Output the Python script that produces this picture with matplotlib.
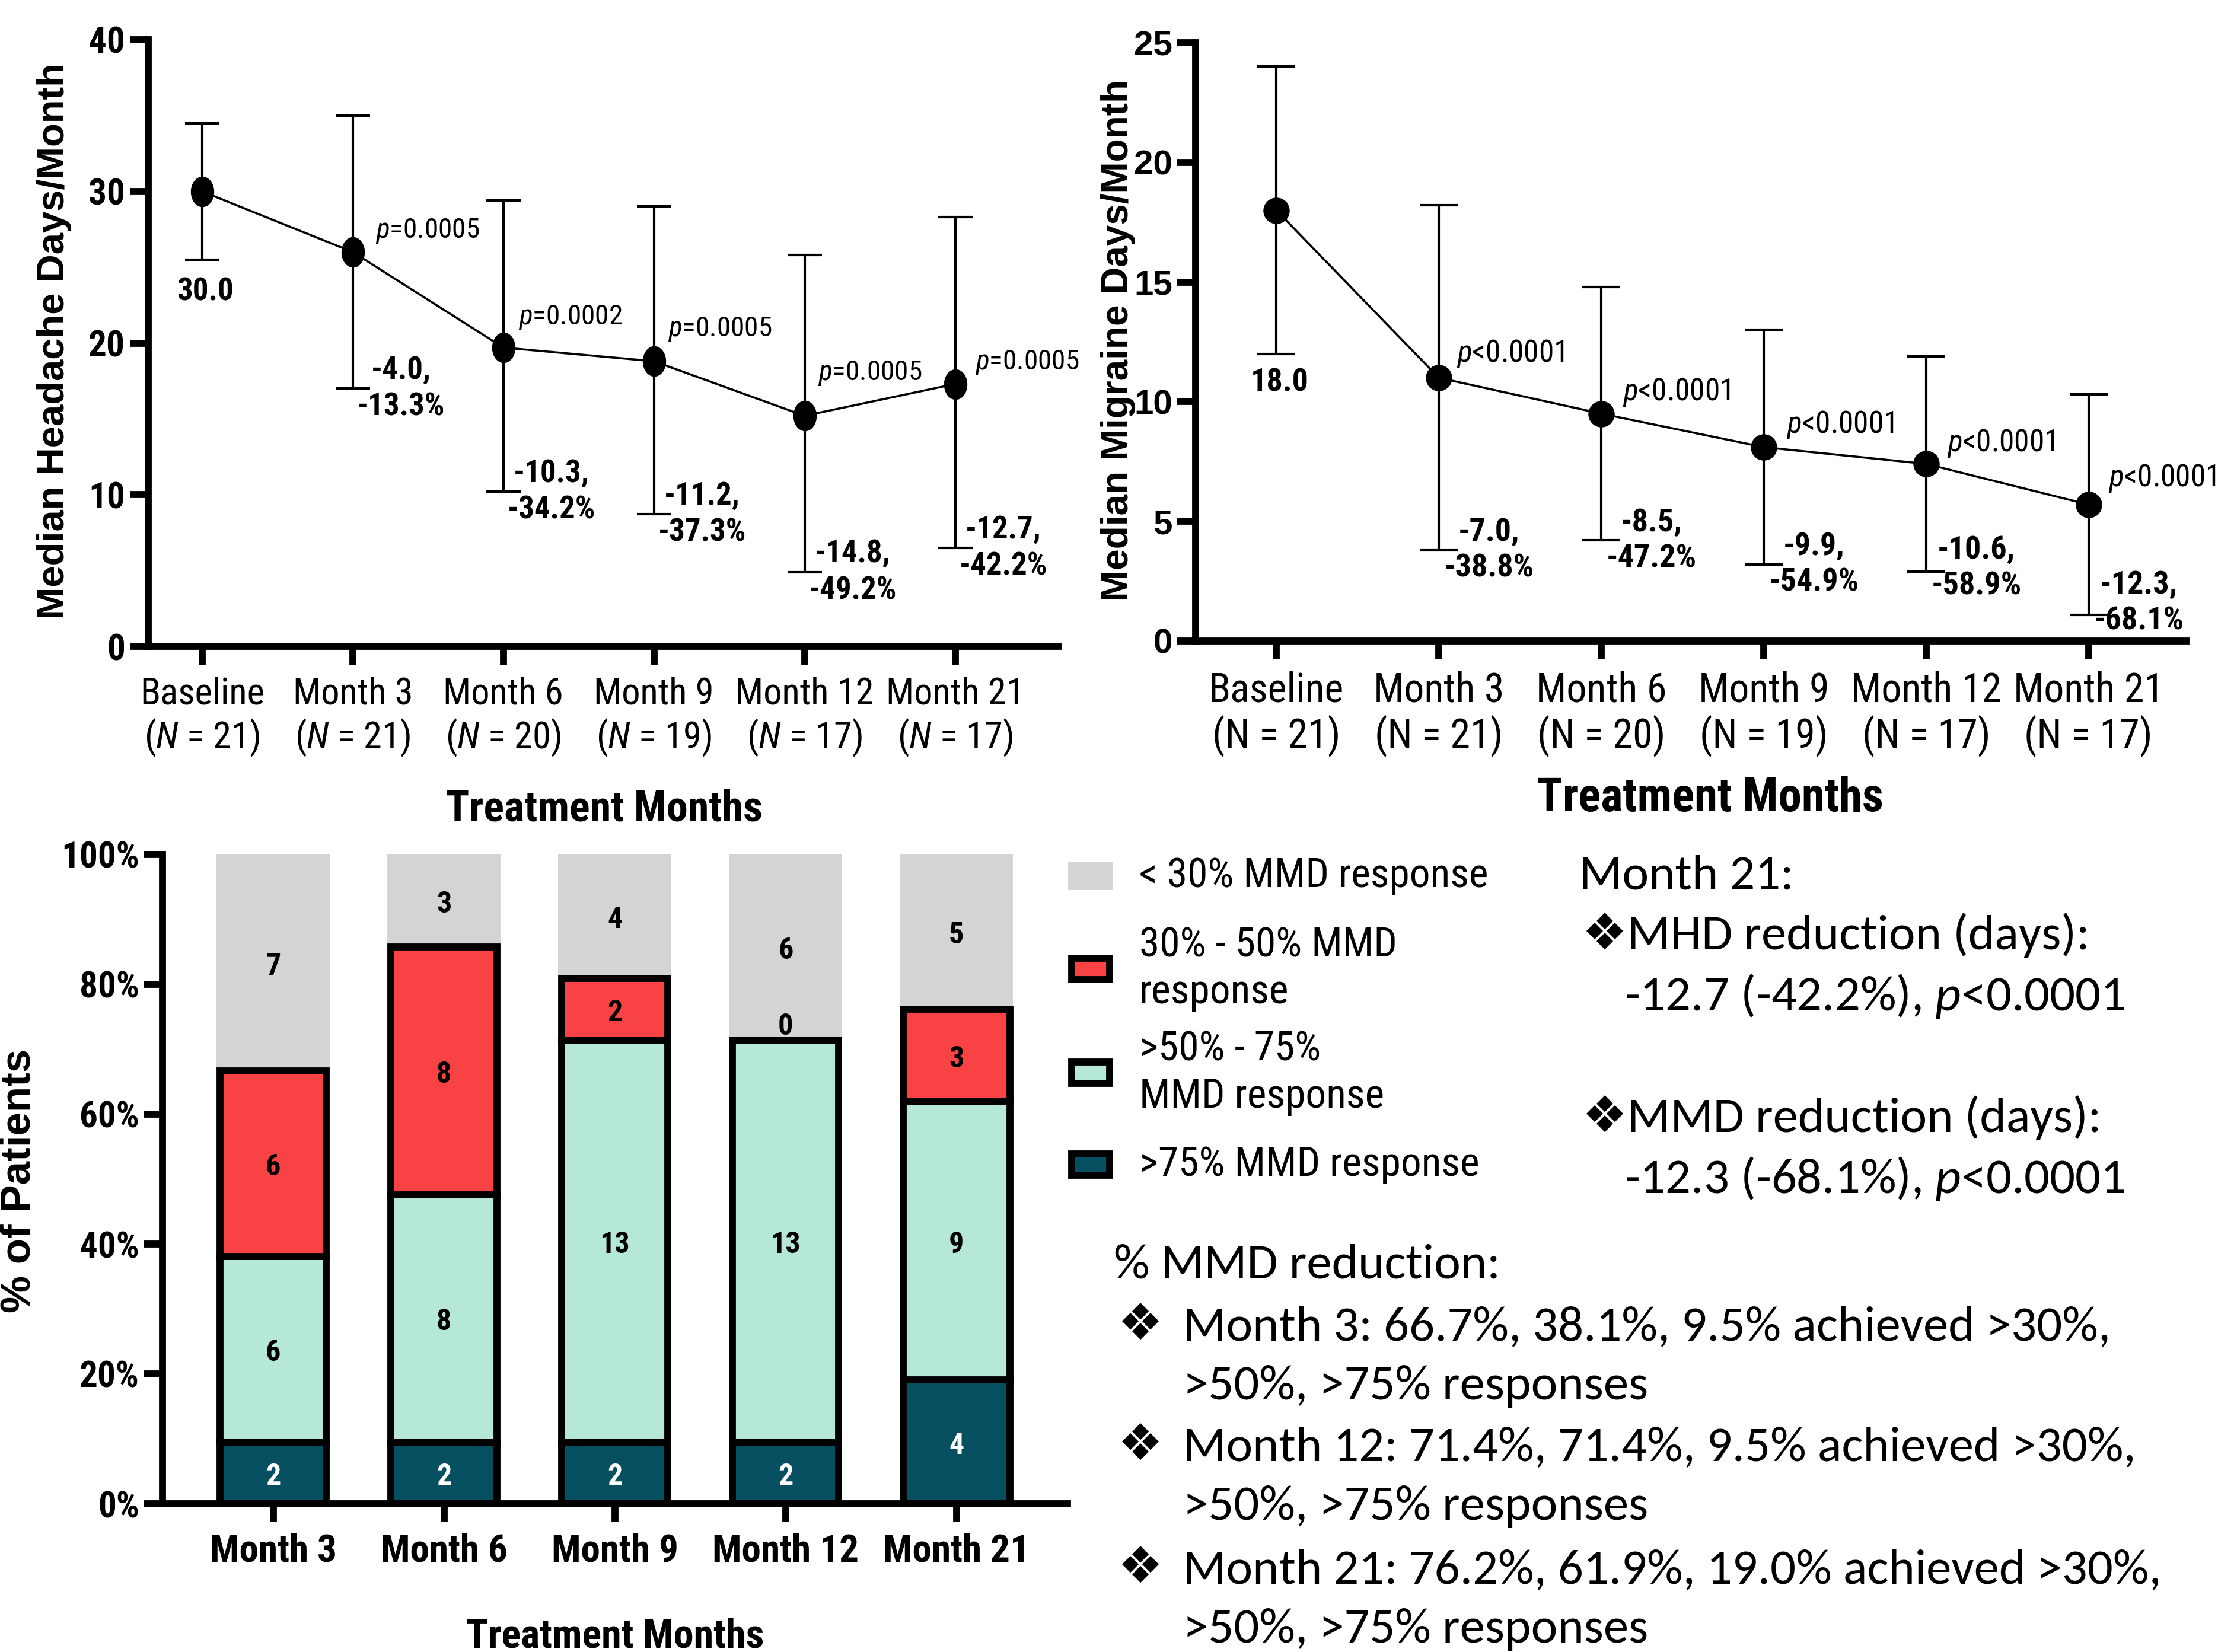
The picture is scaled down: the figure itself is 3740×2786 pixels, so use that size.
import matplotlib
matplotlib.use("Agg")
import matplotlib.pyplot as plt
import numpy as np
from matplotlib.path import Path
from matplotlib.patches import Rectangle

NARROW = ['Roboto Condensed', 'DejaVu Sans']
ARIAL = ['Liberation Sans', 'DejaVu Sans']
CALIBRI = ['Carlito', 'DejaVu Sans']

plt.rcParams['font.family'] = NARROW
plt.rcParams['mathtext.fontset'] = 'custom'
plt.rcParams['mathtext.it'] = 'Roboto Condensed:italic'
plt.rcParams['mathtext.rm'] = 'Roboto Condensed'
plt.rcParams['mathtext.bf'] = 'Roboto Condensed:bold'
plt.rcParams['mathtext.sf'] = 'Carlito:italic'

# ---- data: monthly headache days (top left) ----
visits = ['Baseline', 'Month 3', 'Month 6', 'Month 9', 'Month 12', 'Month 21']
n_patients = [21, 21, 20, 19, 17, 17]
mhd_median = [30.0, 26.0, 19.7, 18.8, 15.2, 17.3]
mhd_low = [25.5, 17.0, 10.2, 8.7, 4.9, 6.5]
mhd_high = [34.5, 35.0, 29.4, 29.0, 25.8, 28.3]
mhd_change = ['-4.0,\n-13.3%', '-10.3,\n-34.2%', '-11.2,\n-37.3%', '-14.8,\n-49.2%', '-12.7,\n-42.2%']
mhd_p = ['=0.0005', '=0.0002', '=0.0005', '=0.0005', '=0.0005']

# ---- data: monthly migraine days (top right) ----
mmd_median = [18.0, 11.0, 9.5, 8.1, 7.4, 5.7]
mmd_low = [12.0, 3.8, 4.2, 3.2, 2.9, 1.1]
mmd_high = [24.0, 18.2, 14.8, 13.0, 11.9, 10.3]
mmd_change = ['-7.0,\n-38.8%', '-8.5,\n-47.2%', '-9.9,\n-54.9%', '-10.6,\n-58.9%', '-12.3,\n-68.1%']
mmd_p = ['<0.0001', '<0.0001', '<0.0001', '<0.0001', '<0.0001']

# ---- data: responder counts (bottom) ----
resp_months = ['Month 3', 'Month 6', 'Month 9', 'Month 12', 'Month 21']
total_n = 21
resp_75 = [2, 2, 2, 2, 4]
resp_50_75 = [6, 8, 13, 13, 9]
resp_30_50 = [6, 8, 2, 0, 3]
resp_lt30 = [7, 3, 4, 6, 5]
resp_names = ['>75% MMD response', '>50% - 75%\nMMD response', '30% - 50% MMD\nresponse', '< 30% MMD response']
resp_colors = ['#054F61', '#B5E8D6', '#F94244', '#D4D4D4']

# layout offsets for the annotations (data units)
mhd_p_dx = [0.15, 0.10, 0.09, 0.09, 0.13]
mhd_p_dy = [1.4, 2.0, 2.1, 2.8, 1.4]
mmd_p_dx = [0.11, 0.13, 0.14, 0.13, 0.12]
mmd_p_dy = [1.0, 0.9, 0.94, 0.87, 1.1]
mmd_chg_dy = [0.0, 0.0, 0.0, 0.15, 0.5]

W, H = 3741, 2786
fig = plt.figure(figsize=(W / 100, H / 100), dpi=100)
SPINE = 8.5


def axes_px(x0, y_top, x1, y_bot):
    return fig.add_axes([x0 / W, 1 - y_bot / H, (x1 - x0) / W, (y_bot - y_top) / H])


def style(ax):
    for s in ['top', 'right']:
        ax.spines[s].set_visible(False)
    for s in ['left', 'bottom']:
        ax.spines[s].set_linewidth(SPINE)
        ax.spines[s].set_capstyle('projecting')
    ax.tick_params(axis='both', length=22, width=SPINE, color='black')
    ax.tick_params(axis='y', pad=6)
    ax.tick_params(axis='x', pad=14)


# elliptical marker (the panel was squeezed horizontally)
t = np.linspace(0, 2 * np.pi, 60)
ellipse = Path(np.column_stack([0.76 * np.cos(t), np.sin(t)]), closed=True)

# ================= top left =================
ax1 = axes_px(250, 67, 1785, 1090)
x = np.arange(len(visits))
med = np.array(mhd_median)
ax1.errorbar(x, med, yerr=[med - np.array(mhd_low), np.array(mhd_high) - med],
             fmt='none', ecolor='black', elinewidth=3, capsize=21, capthick=3, zorder=2)
ax1.plot(x, med, color='black', lw=2.6, marker=ellipse, markersize=36, zorder=3)
ax1.set_xlim(-0.358, 5.687)
ax1.set_ylim(0, 40)
ax1.set_yticks([0, 10, 20, 30, 40])
ax1.set_xticks(x)
ax1.set_xticklabels([f'{v}\n($N$ = {n})' for v, n in zip(visits, n_patients)],
                    fontsize=45, linespacing=1.17)
for lab in ax1.get_yticklabels():
    lab.set_fontsize(44)
    lab.set_fontweight('bold')
style(ax1)
ax1.text(0.02, 23.4, f'{mhd_median[0]:.1f}', fontsize=38, fontweight='bold', ha='center', va='center')
for i in range(1, len(visits)):
    ax1.text(i + mhd_p_dx[i - 1], mhd_median[i] + mhd_p_dy[i - 1], '$p$' + mhd_p[i - 1],
             fontsize=34, ha='left', va='center')
    ax1.text(i + 0.32, mhd_low[i], mhd_change[i - 1], fontsize=38, fontweight='bold',
             ha='center', va='center', linespacing=1.27)
ax1.set_ylabel('Median Headache Days/Month', family=ARIAL, fontsize=47, fontweight='bold', va='center')
ax1.yaxis.set_label_coords(-0.1036, 0.503)
ax1.set_xlabel('Treatment Months', fontsize=52, fontweight='bold', va='center')
ax1.xaxis.set_label_coords(0.501, -0.269)

# ================= top right =================
ax2 = axes_px(2016, 72, 3686, 1081)
med2 = np.array(mmd_median)
ax2.errorbar(x, med2, yerr=[med2 - np.array(mmd_low), np.array(mmd_high) - med2],
             fmt='none', ecolor='black', elinewidth=3, capsize=23, capthick=3, zorder=2)
ax2.plot(x, med2, color='black', lw=2.6, marker='o', markersize=31, zorder=3)
ax2.set_xlim(-0.497, 5.60)
ax2.set_ylim(0, 25)
ax2.set_yticks([0, 5, 10, 15, 20, 25])
ax2.set_xticks(x)
ax2.set_xticklabels([f'{v}\n(N = {n})' for v, n in zip(visits, n_patients)],
                    fontsize=49, linespacing=1.15)
for lab in ax2.get_yticklabels():
    lab.set_fontsize(42)
    lab.set_fontweight('bold')
    lab.set_family(ARIAL)
style(ax2)
ax2.text(0.02, 10.8, f'{mmd_median[0]:.1f}', fontsize=39, fontweight='bold', ha='center', va='center')
for i in range(1, len(visits)):
    ax2.text(i + mmd_p_dx[i - 1], mmd_median[i] + mmd_p_dy[i - 1], '$p$' + mmd_p[i - 1],
             fontsize=37, ha='left', va='center', clip_on=False)
    ax2.text(i + 0.31, mmd_low[i] + mmd_chg_dy[i - 1], mmd_change[i - 1], fontsize=39,
             fontweight='bold', ha='center', va='center', linespacing=1.25)
ax2.set_ylabel('Median Migraine Days/Month', family=ARIAL, fontsize=46, fontweight='bold', va='center')
ax2.yaxis.set_label_coords(-0.0784, 0.503)
ax2.set_xlabel('Treatment Months', fontsize=57, fontweight='bold', va='center')
ax2.xaxis.set_label_coords(0.520, -0.263)

# ================= bottom: stacked responders =================
ax3 = axes_px(274, 1441, 1800, 2536)
xb = np.arange(len(resp_months))
segments = [resp_75, resp_50_75, resp_30_50, resp_lt30]
bw = 0.663
bottom = np.zeros(len(xb))
for k, (cnt, col) in enumerate(zip(segments, resp_colors)):
    pct = np.array(cnt) / total_n * 100
    if k < 3:
        ax3.bar(xb, pct, bottom=bottom, width=bw - 0.04, color=col, edgecolor='black',
                linewidth=8.5, zorder=2)
    else:
        ax3.bar(xb, pct, bottom=bottom, width=bw, color=col, edgecolor='none', zorder=1)
    tc = 'white' if k == 0 else 'black'
    for j, c in enumerate(cnt):
        yc = bottom[j] + pct[j] / 2 if c > 0 else bottom[j] + 2.6
        ax3.text(xb[j], yc - 0.6, str(c), fontsize=36, fontweight='bold', color=tc,
                 ha='center', va='center', zorder=4)
    bottom = bottom + pct
ax3.set_xlim(-0.648, 4.65)
ax3.set_ylim(0, 100)
ax3.set_yticks(np.arange(0, 101, 20))
ax3.set_yticklabels([f'{v}%' for v in range(0, 101, 20)], fontsize=44, fontweight='bold')
ax3.set_xticks(xb)
ax3.set_xticklabels(resp_months, fontsize=47, fontweight='bold')
style(ax3)
ax3.set_ylabel('% of Patients', family=ARIAL, fontsize=51, fontweight='bold', va='center')
ax3.yaxis.set_label_coords(-0.158, 0.497)
ax3.set_xlabel('Treatment Months', fontsize=49, fontweight='bold', va='center')
ax3.xaxis.set_label_coords(0.50, -0.205)

# ---- legend (top entry first) ----
leg_y = [1477, 1634, 1809, 1964]
for k, yc in zip([3, 2, 1, 0], leg_y):
    if k == 3:
        r = Rectangle((1801 / W, 1 - (yc + 24) / H), 76 / W, 48 / H, facecolor=resp_colors[k],
                      edgecolor='none', transform=fig.transFigure)
    else:
        r = Rectangle((1807 / W, 1 - (yc + 18) / H), 64 / W, 36 / H, facecolor=resp_colors[k],
                      edgecolor='black', linewidth=8.5, transform=fig.transFigure)
    fig.add_artist(r)
    fig.text(1921 / W, 1 - yc / H, resp_names[k], fontsize=50, ha='left', va='center',
             linespacing=1.25)


# ---- summary text ----
def pct_str(a):
    return f'{a / total_n * 100:.1f}%'


SUM = dict(fontsize=61, ha='left', va='center', family=CALIBRI)
fig.text(2663 / W, 1 - 1477 / H, 'Month 21:', **SUM)
fig.text(2668 / W, 1 - 1577 / H, '\u2756MHD reduction (days):', **SUM)
fig.text(2739 / W, 1 - 1680 / H,
         f'{mhd_median[5] - mhd_median[0]:.1f} (-42.2%), ' + r'$\mathsf{p}$' + '<0.0001', **SUM)
fig.text(2668 / W, 1 - 1885 / H, '\u2756MMD reduction (days):', **SUM)
fig.text(2739 / W, 1 - 1988 / H,
         f'{mmd_median[5] - mmd_median[0]:.1f} (-68.1%), ' + r'$\mathsf{p}$' + '<0.0001', **SUM)
fig.text(1878 / W, 1 - 2133 / H, '% MMD reduction:', **SUM)
for j, yc in zip([0, 3, 4], [2238, 2441, 2648]):
    gt30 = resp_75[j] + resp_50_75[j] + resp_30_50[j]
    gt50 = resp_75[j] + resp_50_75[j]
    fig.text(1885 / W, 1 - yc / H, '\u2756', **SUM)
    fig.text(1995 / W, 1 - yc / H,
             f'{resp_months[j]}: {pct_str(gt30)}, {pct_str(gt50)}, {pct_str(resp_75[j])} achieved >30%,',
             **SUM)
    fig.text(1995 / W, 1 - (yc + 100) / H, '>50%, >75% responses', **SUM)

fig.savefig('out.png', dpi=100, facecolor='white')
